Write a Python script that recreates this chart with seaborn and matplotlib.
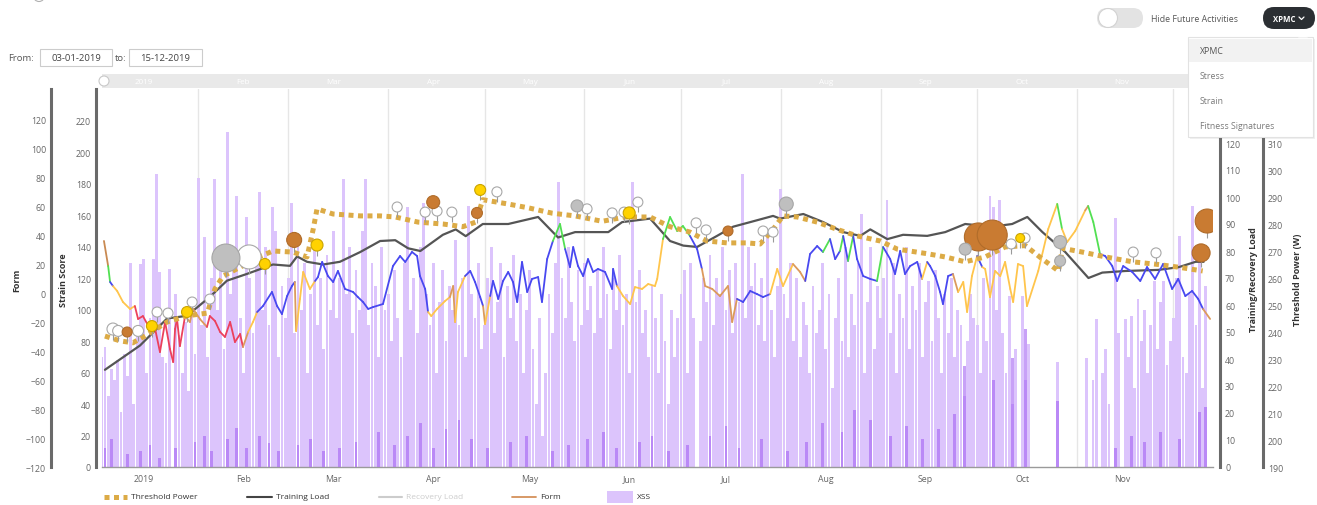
import numpy as np
import pandas as pd
import matplotlib
matplotlib.use("Agg")
import matplotlib.pyplot as plt
import seaborn as sns
from matplotlib.collections import LineCollection
from matplotlib.patches import Rectangle, FancyBboxPatch, Circle, Polygon

# --- XSS per day (strain score), one list per month, day 0 = 1 Jan 2019 ---
xss_jan = [0, 70, 76, 45, 62, 55, 68, 35, 72, 58, 130, 40, 86, 129, 132, 60, 95, 132, 186, 124,
           70, 66, 126, 0, 110, 84, 60, 92, 48, 105, 72]
xss_feb = [184, 90, 146, 70, 120, 183, 100, 130, 75, 213, 110, 140, 172, 95, 60, 159, 120, 85, 135, 175,
           100, 140, 90, 165, 150, 70, 115, 95]
xss_mar = [120, 168, 85, 140, 100, 130, 60, 110, 145, 90, 120, 75, 135, 100, 150, 95, 120, 183, 110, 140,
           85, 125, 100, 150, 183, 90, 130, 115, 70, 140, 100]
xss_apr = [110, 80, 125, 95, 70, 130, 165, 100, 120, 85, 140, 168, 110, 90, 130, 60, 105, 125, 80, 115,
           100, 144, 90, 120, 70, 166, 110, 95, 130, 75]
xss_may = [90, 120, 140, 85, 105, 130, 70, 115, 95, 135, 80, 110, 60, 100, 125, 75, 40, 95, 20, 60,
           110, 85, 130, 181, 120, 95, 140, 105, 80, 125, 90]
xss_jun = [130, 100, 115, 85, 125, 95, 140, 110, 75, 120, 100, 135, 90, 110, 60, 181, 105, 125, 85, 100,
           70, 115, 95, 60, 110, 80, 40, 100, 70, 95]
xss_jul = [110, 125, 60, 130, 95, 0, 80, 120, 105, 135, 90, 120, 110, 140, 100, 125, 85, 130, 105, 186,
           95, 140, 115, 130, 90, 120, 80, 150, 100, 70, 115]
xss_aug = [177, 110, 95, 130, 80, 120, 70, 105, 90, 60, 115, 85, 100, 130, 75, 110, 50, 95, 120, 80,
           140, 70, 110, 90, 130, 161, 60, 105, 140, 75, 115]
xss_sep = [95, 120, 170, 85, 130, 60, 110, 95, 140, 75, 115, 100, 130, 70, 105, 118, 80, 125, 95, 60,
           110, 85, 120, 70, 100, 90, 45, 80, 110, 95]
xss_oct = [90, 60, 120, 80, 172, 165, 100, 170, 85, 60, 109, 40, 75, 0, 109, 55, 78, 0, 0, 0,
           0, 0, 0, 0, 0, 67, 0, 0, 0, 0, 0]
xss_nov = [0, 0, 0, 69, 0, 55, 94, 0, 60, 75, 40, 0, 158, 85, 0, 94, 70, 96, 50, 107,
           80, 100, 60, 90, 118, 75, 105, 118, 65, 80]
xss_dec = [95, 120, 147, 70, 60, 110, 166, 90, 140, 50, 115, 0]

# darker (high intensity) part of XSS: (day, strain)
xss_peak = [(2, 12), (4, 18), (9, 8), (13, 10), (16, 14), (19, 6), (24, 12), (30, 16), (33, 20), (35, 10),
            (40, 18), (43, 25), (46, 12), (50, 20), (53, 15), (56, 10), (62, 14), (66, 18), (70, 10),
            (75, 12), (80, 16), (87, 22), (92, 14), (96, 20), (100, 28), (104, 12), (108, 24), (112, 30),
            (116, 18), (121, 12), (128, 16), (133, 20), (141, 10), (146, 14), (152, 18), (157, 22),
            (161, 12), (168, 16), (172, 20), (177, 10), (183, 14), (190, 20), (195, 26), (199, 12),
            (206, 18), (214, 10), (220, 16), (225, 28), (231, 22), (235, 36), (240, 30), (246, 20),
            (251, 26), (256, 18), (261, 24), (266, 34), (269, 64), (278, 55), (284, 69), (288, 88),
            (298, 42), (316, 12), (321, 20), (325, 16), (330, 22), (336, 18), (342, 35), (344, 38)]

# Training Load: (day, load)
training_load = [(2.0, 36), (12.9, 45), (21.3, 55), (27.5, 56), (34.6, 63), (39.9, 69), (46.1, 71.5),
                 (54.2, 75), (59.5, 74.5), (61.7, 78), (64.8, 76), (69.8, 75), (75.0, 76), (81.3, 79.6),
                 (87.5, 83.7), (92.2, 84), (96.2, 81), (100.0, 80), (107.0, 86), (111.0, 88), (114.1, 85.5),
                 (119.4, 90), (127.3, 90), (136.6, 92.6), (142.8, 85), (148.1, 87), (158.4, 87),
                 (162.7, 90.7), (171.4, 92), (177.6, 83.7), (181.7, 82), (186.0, 81.5), (192.2, 85.6),
                 (197.2, 89), (202.5, 90.7), (209.6, 93), (211.8, 92), (219.0, 93.7), (225.2, 90.7),
                 (231.4, 87), (236.7, 85.6), (239.8, 88), (245.1, 84.4), (250.0, 86), (257.5, 85.6),
                 (263.1, 87), (269.3, 90), (277.7, 89), (283.9, 90), (288.6, 92.6), (293.3, 87),
                 (300.4, 79.6), (307.6, 70), (311.9, 72), (319.1, 72.6), (329.3, 73), (335.6, 74),
                 (340.9, 76), (343.4, 76)]

# Threshold Power: (day, watts)
threshold_power = [(2.0, 238.5), (6.7, 236.7), (10.7, 236.0), (15.1, 239.0), (21.3, 243.7), (27.5, 246.0),
                   (33.8, 247.0), (36.2, 256.0), (38.7, 260.7), (44.0, 264.0), (50.2, 268.0), (54.2, 270.0),
                   (60.4, 269.6), (64.8, 267.8), (66.7, 278.0), (67.9, 285.6), (72.9, 283.7), (81.3, 283.0),
                   (87.5, 283.0), (92.2, 282.6), (99.3, 280.7), (107.0, 280.0), (113.2, 279.0),
                   (117.2, 280.7), (119.4, 289.0), (127.3, 287.4), (133.5, 286.0), (141.0, 284.0),
                   (148.1, 283.0), (156.5, 281.0), (163.6, 282.6), (171.4, 282.6), (177.6, 279.0),
                   (183.8, 277.0), (189.1, 273.7), (195.3, 273.0), (201.5, 273.0), (205.6, 272.6),
                   (209.6, 278.0), (212.7, 283.0), (217.1, 282.6), (223.3, 280.7), (229.5, 278.0),
                   (235.7, 275.6), (242.9, 273.7), (248.2, 270.7), (257.5, 269.0), (263.1, 267.8),
                   (269.3, 266.0), (275.5, 267.8), (281.7, 271.5), (288.0, 272.0), (293.3, 267.0),
                   (298.3, 262.6), (299.5, 271.0), (305.7, 269.6), (312.9, 267.8), (321.3, 266.0),
                   (329.3, 265.0), (335.6, 264.0), (343.1, 262.6)]

# Form: (day, form, status)  P=peak T=tired R=very tired Y=neutral B=fresh G=very fresh
form = [(1.7, 35.9, 'P'), (3.0, 18.6, 'G'), (3.6, 7.6, 'B'), (4.5, 4.8, 'Y'), (5.8, 1.4, 'Y'),
        (7.6, -6.2, 'Y'), (9.8, -11.0, 'Y'), (11.3, -9.0, 'R'), (12.3, -17.9, 'R'), (13.8, -15.9, 'R'),
        (16.0, -24.8, 'R'), (17.6, -24.8, 'R'), (19.1, -40.7, 'R'), (20.7, -20.0, 'R'), (22.2, -38.6, 'R'),
        (23.2, -47.6, 'R'), (23.8, -24.8, 'R'), (24.4, -17.9, 'R'), (25.3, -36.6, 'R'), (26.9, -15.9, 'T'),
        (28.4, -20.0, 'T'), (29.4, -11.0, 'T'), (31.5, -17.9, 'T'), (33.7, -23.4, 'R'), (34.6, -15.9, 'R'),
        (36.2, -19.3, 'R'), (37.8, -26.9, 'R'), (39.3, -30.3, 'R'), (40.9, -20.0, 'R'), (42.4, -33.8, 'R'),
        (44.0, -28.3, 'R'), (44.9, -37.2, 'T'), (46.5, -26.9, 'Y'), (48.0, -20.0, 'Y'), (49.3, -13.1, 'B'),
        (51.1, -9.0, 'B'), (53.9, 0.7, 'B'), (55.5, -9.0, 'B'), (57.0, -14.5, 'B'), (58.6, -2.1, 'B'),
        (60.1, 4.8, 'B'), (61.0, 7.6, 'T'), (61.4, -26.2, 'Y'), (62.6, -4.1, 'Y'), (63.6, 14.5, 'Y'),
        (65.7, 2.8, 'Y'), (67.3, 8.3, 'B'), (68.2, 11.0, 'B'), (69.5, 21.4, 'B'), (71.3, 11.7, 'B'),
        (72.9, 7.6, 'B'), (74.4, 15.2, 'B'), (76.6, 2.8, 'B'), (79.1, 0.7, 'B'), (80.6, -2.8, 'B'),
        (82.2, -6.2, 'B'), (83.8, -11.0, 'B'), (85.3, -9.7, 'B'), (88.4, -7.6, 'B'), (91.5, 18.6, 'B'),
        (93.7, 25.5, 'B'), (95.3, 21.4, 'B'), (97.4, 28.3, 'B'), (99.0, 25.5, 'B'), (99.9, 11.7, 'B'),
        (101.5, 2.8, 'B'), (102.4, -13.1, 'Y'), (103.4, -15.9, 'Y'), (105.2, -11.0, 'Y'), (107.7, -5.5, 'Y'),
        (109.2, -2.8, 'T'), (110.2, 4.8, 'T'), (110.8, -20.0, 'Y'), (111.7, 0.7, 'Y'), (113.9, 11.7, 'B'),
        (115.5, 15.2, 'B'), (117.0, 7.6, 'B'), (118.6, -2.8, 'B'), (119.5, -9.0, 'T'), (120.1, -21.4, 'Y'),
        (121.7, -2.1, 'B'), (122.6, 8.3, 'B'), (124.2, -4.1, 'B'), (125.7, 8.3, 'B'), (127.3, 14.5, 'B'),
        (128.8, 7.6, 'B'), (130.1, -6.2, 'B'), (131.6, 21.4, 'B'), (133.2, 0.7, 'B'), (134.7, 9.7, 'B'),
        (136.6, 11.0, 'B'), (137.8, -6.2, 'B'), (139.4, 23.4, 'B'), (141.2, 35.9, 'G'), (143.4, 47.6, 'G'),
        (145.0, 30.3, 'B'), (146.5, 17.9, 'B'), (147.5, 31.7, 'B'), (149.0, 18.6, 'B'), (150.6, 11.7, 'B'),
        (152.1, 23.4, 'B'), (153.7, 14.5, 'B'), (155.2, 16.6, 'B'), (157.4, 14.5, 'B'), (159.6, 2.8, 'B'),
        (159.9, 16.6, 'B'), (161.1, 4.8, 'Y'), (163.0, -2.1, 'Y'), (165.2, -7.6, 'Y'), (166.7, 4.1, 'Y'),
        (168.9, 2.8, 'Y'), (170.8, 6.2, 'Y'), (172.9, 4.8, 'Y'), (173.6, 9.7, 'Y'), (175.4, 37.2, 'G'),
        (177.6, 52.4, 'G'), (179.8, 42.8, 'G'), (181.6, 46.2, 'G'), (183.8, 39.3, 'B'), (186.0, 30.3, 'B'),
        (187.5, 16.6, 'T'), (188.5, 4.8, 'T'), (190.7, 2.8, 'T'), (193.1, -2.1, 'T'), (195.6, 4.8, 'T'),
        (196.9, -20.0, 'T'), (198.4, -4.1, 'B'), (200.3, -6.2, 'B'), (202.5, 1.4, 'B'), (204.6, -0.7, 'B'),
        (206.5, -2.8, 'B'), (208.7, -0.7, 'Y'), (210.9, 16.6, 'Y'), (212.7, 4.8, 'Y'), (215.8, 20.0, 'T'),
        (218.0, 14.5, 'T'), (219.6, 8.3, 'B'), (221.1, 26.9, 'B'), (223.3, 32.4, 'B'), (225.1, 28.3, 'G'),
        (227.3, 37.2, 'B'), (228.9, 23.4, 'B'), (230.4, 29.0, 'G'), (231.4, 39.3, 'B'), (232.9, 22.1, 'G'),
        (234.5, 39.3, 'B'), (235.7, 23.4, 'B'), (237.6, 11.7, 'B'), (239.8, 9.7, 'B'), (241.9, 8.3, 'G'),
        (243.8, 31.7, 'B'), (246.0, 23.4, 'B'), (247.5, 13.1, 'B'), (249.1, 29.0, 'B'), (250.6, 13.1, 'B'),
        (252.2, 18.6, 'B'), (254.4, 21.4, 'B'), (255.9, 9.7, 'Y'), (257.5, 21.4, 'B'), (258.4, 18.6, 'B'),
        (260.0, 11.7, 'B'), (261.5, 0.7, 'B'), (262.4, -7.6, 'B'), (264.0, 11.7, 'B'), (265.5, 13.1, 'T'),
        (267.1, 0.7, 'Y'), (268.7, 7.6, 'Y'), (269.9, -13.1, 'Y'), (271.4, 11.7, 'Y'), (273.0, 25.5, 'B'),
        (274.6, 17.9, 'Y'), (275.5, 16.6, 'Y'), (277.0, -2.8, 'Y'), (278.6, 15.2, 'Y'), (280.2, 11.7, 'Y'),
        (281.7, 21.4, 'Y'), (283.3, 2.8, 'Y'), (284.2, -6.2, 'Y'), (285.7, 20.0, 'Y'), (287.3, 18.6, 'Y'),
        (288.5, -9.0, 'Y'), (292.0, 15.2, 'Y'), (295.1, 44.1, 'Y'), (297.9, 61.4, 'G'), (299.4, 44.1, 'Y'),
        (301.0, 35.2, 'Y'), (303.5, 42.8, 'Y'), (306.6, 57.0, 'T'), (307.5, 60.0, 'G'), (309.1, 49.0, 'G'),
        (311.2, 26.9, 'B'), (312.8, 25.5, 'B'), (315.0, 18.6, 'B'), (316.5, 8.3, 'B'), (318.4, 18.6, 'B'),
        (321.2, 14.5, 'B'), (323.7, 8.3, 'B'), (325.8, 17.9, 'B'), (328.3, 9.7, 'B'), (330.8, 20.0, 'B'),
        (333.6, 2.8, 'B'), (335.5, 9.7, 'B'), (337.7, -2.1, 'B'), (339.8, 1.4, 'B'), (341.7, -4.1, 'B'),
        (343.2, -11.0, 'T'), (345.4, -17.9, 'T')]

# Activities: (day, threshold power, score, kind)
activities = [(4.5, 241.1, 36, 'white'), (6.1, 240.4, 30, 'white'), (8.9, 240.0, 25, 'brown'),
              (12.3, 240.4, 30, 'white'), (16.6, 242.2, 30, 'yellow'), (18.2, 247.4, 25, 'white'),
              (21.6, 247.0, 25, 'white'), (27.5, 247.4, 30, 'yellow'), (29.1, 251.1, 25, 'white'),
              (34.6, 252.2, 25, 'white'), (39.6, 267.4, 196, 'gray'), (46.8, 267.8, 144, 'white'),
              (51.7, 265.2, 30, 'yellow'), (60.8, 274.1, 56, 'brown'), (67.9, 272.2, 36, 'yellow'),
              (92.8, 286.3, 25, 'white'), (101.5, 284.4, 25, 'white'), (104.0, 288.1, 42, 'brown'),
              (105.2, 284.8, 25, 'white'), (109.8, 284.4, 25, 'white'), (117.6, 284.1, 30, 'brown'),
              (118.6, 292.6, 30, 'yellow'), (123.8, 291.9, 25, 'white'), (148.7, 286.7, 36, 'gray'),
              (151.8, 285.6, 25, 'white'), (159.6, 284.1, 25, 'white'), (163.3, 284.4, 25, 'white'),
              (164.9, 284.1, 36, 'yellow'), (167.6, 288.1, 25, 'white'), (185.7, 280.4, 25, 'white'),
              (188.8, 277.8, 25, 'white'), (195.6, 277.4, 25, 'brown'), (206.5, 277.4, 25, 'white'),
              (209.6, 277.0, 25, 'white'), (213.7, 287.4, 49, 'gray'), (269.3, 270.7, 36, 'gray'),
              (273.4, 275.2, 196, 'brown'), (277.7, 275.9, 225, 'brown'), (283.6, 272.6, 25, 'white'),
              (286.4, 274.8, 20, 'yellow'), (287.9, 274.8, 25, 'white'), (298.8, 273.3, 42, 'gray'),
              (298.8, 266.3, 30, 'gray'), (321.5, 269.6, 25, 'white'), (328.6, 269.3, 25, 'white'),
              (342.6, 269.3, 81, 'brown'), (344.5, 281.1, 144, 'brown')]

month_starts = [31, 59, 90, 120, 151, 181, 212, 243, 273, 304, 334]
month_mids = [14, 45, 73, 104, 134, 165, 195, 226, 257, 287, 318]
month_labels = ['2019', 'Feb', 'Mar', 'Apr', 'May', 'Jun', 'Jul', 'Aug', 'Sep', 'Oct', 'Nov']
legend_names = ['Threshold Power', 'Training Load', 'Recovery Load', 'Form', 'XSS']
menu_items = ['XPMC', 'Stress', 'Strain', 'Fitness Signatures']

PX = 0.72  # points per pixel at 100 dpi
W, H = 1317, 506
AXIS_GRAY = '#6a6a6a'
TICK_GRAY = '#666666'
GOLD = '#dcab46'
XSS_COLOR = '#dcc4fc'

zone_colors = {'P': '#c98a52', 'T': '#dc9a5c', 'R': '#ec405c', 'Y': '#ffc54c',
               'B': '#4848f0', 'G': '#52e052'}
kind_fill = {'white': '#ffffff', 'gray': '#bfbfbf', 'yellow': '#ffd200', 'brown': '#c97b32'}
kind_edge = {'white': '#a8a8a8', 'gray': '#a6a6a6', 'yellow': '#caa400', 'brown': '#b06c2a'}


def style_y(axis, side, offset_px, ticks):
    for name, sp in axis.spines.items():
        sp.set_visible(name == side)
    sp = axis.spines[side]
    sp.set_position(('outward', offset_px * PX))
    sp.set_color(AXIS_GRAY)
    sp.set_linewidth(2.2)
    axis.set_yticks(ticks)
    axis.tick_params(axis='y', length=0, pad=5 * PX, labelsize=6.3, labelcolor=TICK_GRAY)
    axis.set_ylabel('')


def main():
    sns.set_theme(style='white')
    plt.rcParams['font.family'] = ['Open Sans', 'DejaVu Sans']

    fig = plt.figure(figsize=(W / 100, H / 100), dpi=100)
    L, R, T, B = 102, 1213, 90, 468
    ax = fig.add_axes([L / W, 1 - B / H, (R - L) / W, (B - T) / H])

    xss = xss_jan + xss_feb + xss_mar + xss_apr + xss_may + xss_jun + xss_jul + xss_aug + \
        xss_sep + xss_oct + xss_nov + xss_dec
    days = np.arange(len(xss))
    peak = pd.Series(dict(xss_peak)).reindex(days, fill_value=0)
    bars = pd.DataFrame({'day': days, 'xss': xss, 'peak': peak.values})

    for m in month_starts:
        ax.axvline(m, color='#e6e6e6', lw=1, zorder=0)
    sns.barplot(data=bars, x='day', y='xss', native_scale=True, width=0.88, color=XSS_COLOR,
                saturation=1, errorbar=None, linewidth=0, ax=ax, zorder=2)
    sns.barplot(data=bars, x='day', y='peak', native_scale=True, width=0.88, color='#a463f2',
                saturation=1, errorbar=None, linewidth=0, alpha=0.6, ax=ax, zorder=3)

    ax.set_xlim(1.09, 346.3)
    ax.set_ylim(0, 240.3)
    style_y(ax, 'left', 6, range(0, 221, 20))
    ax.spines['bottom'].set_visible(True)
    ax.spines['bottom'].set_color('#9a9a9a')
    ax.spines['bottom'].set_linewidth(1)
    ax.set_xticks(month_mids)
    ax.set_xticklabels(month_labels)
    ax.tick_params(axis='x', length=0, pad=5, labelsize=6.3, labelcolor=TICK_GRAY)
    ax.set_xlabel('')

    # training load
    ax_tl = ax.twinx()
    tl = pd.DataFrame(training_load, columns=['day', 'load'])
    sns.lineplot(data=tl, x='day', y='load', color='#555555', linewidth=1.6, ax=ax_tl)
    ax_tl.set_ylim(0, 140)
    style_y(ax_tl, 'right', 7, range(0, 121, 10))

    # form
    ax_form = ax.twinx()
    fd = np.array([p[0] for p in form])
    fv = np.array([p[1] for p in form])
    pts = np.column_stack([fd, fv])
    segs = np.stack([pts[:-1], pts[1:]], axis=1)
    lc = LineCollection(segs, colors=[zone_colors[p[2]] for p in form[:-1]], linewidths=1.3,
                        capstyle='round', joinstyle='round')
    ax_form.add_collection(lc)
    ax_form.set_ylim(-120, 140.7)
    ax_form.yaxis.tick_left()
    style_y(ax_form, 'left', 51, range(-120, 121, 20))

    # threshold power + activities
    ax_tp = ax.twinx()
    tp = pd.DataFrame(threshold_power, columns=['day', 'power'])
    sns.lineplot(data=tp, x='day', y='power', color=GOLD, linewidth=3.6,
                 linestyle=(0, (1.0, 0.9)), ax=ax_tp)
    acts = pd.DataFrame(activities, columns=['day', 'power', 'score', 'kind'])
    px_per_w = (B - T) / 140.0
    ax_tp.vlines(acts['day'], acts['power'] - (np.sqrt(acts['score']) + 5) / px_per_w, acts['power'],
                 color='#9a9a9a', lw=0.8, zorder=4)
    for kind, grp in acts.groupby('kind', sort=False):
        sns.scatterplot(data=grp, x='day', y='power', size='score', sizes=(0, 466.6), size_norm=(0, 225),
                        color=kind_fill[kind], edgecolor=kind_edge[kind], linewidth=0.8,
                        legend=False, ax=ax_tp, zorder=5)
    ax_tp.set_ylim(190, 330)
    style_y(ax_tp, 'right', 50, range(190, 311, 10))
    ax.set_xlim(1.09, 346.3)

    # axis titles
    for txt, xp in [('Form', 17), ('Strain Score', 64), ('Training/Recovery Load', 1254),
                    ('Threshold Power (W)', 1297)]:
        fig.text(xp / W, 1 - 280 / H, txt, rotation=90, ha='center', va='center',
                 fontsize=6.5, fontweight='bold', color='#333333')

    # navigator band
    nav = fig.add_axes([L / W, 1 - 89 / H, (R - L) / W, 14 / H], sharex=ax)
    nav.set_facecolor('#e9e9e9')
    for sp in nav.spines.values():
        sp.set_visible(False)
    nav.tick_params(labelbottom=False, labelleft=False, length=0)
    nav.set_yticks([])
    for d, lab in zip(month_mids, month_labels):
        nav.text(d, 0.5, lab, transform=nav.get_xaxis_transform(), ha='center', va='center',
                 fontsize=5.8, color='#ffffff')

    # page widgets, drawn in pixel space
    ui = fig.add_axes([0, 0, 1, 1], zorder=10)
    ui.set_xlim(0, W)
    ui.set_ylim(H, 0)
    ui.axis('off')
    ui.patch.set_alpha(0)

    ui.add_patch(Circle((104, 82), 5, fc='white', ec='#c8c8c8', lw=0.8))
    ui.add_patch(Circle((39, -3), 5.5, fc='none', ec='#b0b0b0', lw=0.8))
    ui.text(8, 58.5, 'From:', fontsize=6.8, color='#555555', va='center')
    ui.add_patch(Rectangle((40, 50), 72, 17, fc='white', ec='#cccccc', lw=0.8))
    ui.text(76, 58.5, '03-01-2019', fontsize=6.8, color='#444444', va='center', ha='center')
    ui.text(115, 58.5, 'to:', fontsize=6.8, color='#555555', va='center')
    ui.add_patch(Rectangle((129, 50), 73, 17, fc='white', ec='#cccccc', lw=0.8))
    ui.text(165.5, 58.5, '15-12-2019', fontsize=6.8, color='#444444', va='center', ha='center')

    ui.add_patch(FancyBboxPatch((1097, 9), 46, 20, boxstyle='round,pad=0,rounding_size=10',
                                fc='#e3e3e3', ec='none'))
    ui.add_patch(Circle((1108, 19), 9.5, fc='white', ec='#d2d2d2', lw=0.8))
    ui.text(1151, 19, 'Hide Future Activities', fontsize=6.3, color='#555555', va='center')
    ui.add_patch(FancyBboxPatch((1263, 8), 52, 22, boxstyle='round,pad=0,rounding_size=11',
                                fc='#2b2f33', ec='none'))
    ui.text(1284, 19.5, 'XPMC', fontsize=5.6, color='white', va='center', ha='center', fontweight='bold')
    ui.plot([1299, 1301.5, 1304], [18, 20.5, 18], color='white', lw=0.9)

    ui.add_patch(Rectangle((1190, 40), 125, 100, fc='black', alpha=0.06, ec='none'))
    ui.add_patch(Rectangle((1188, 38), 125, 100, fc='white', ec='#e2e2e2', lw=0.8))
    ui.add_patch(Polygon([[1298, 38.5], [1303, 34], [1308, 38.5]], closed=True, fc='white', ec='none'))
    ui.add_patch(Rectangle((1189, 40), 123, 23, fc='#f2f2f2', ec='none'))
    for i, item in enumerate(menu_items):
        ui.text(1200, 51.5 + 25 * i, item, fontsize=6.3, va='center',
                color='#555555' if i == 0 else '#7a7a7a')

    # legend
    ly = 498
    ui.plot([104, 127], [ly, ly], color=GOLD, lw=3.6, linestyle=(0, (1.0, 0.9)))
    ui.plot([247, 272], [ly, ly], color='#444444', lw=1.5)
    ui.plot([379, 402], [ly, ly], color='#cccccc', lw=1.5)
    ui.plot([512, 536], [ly, ly], color='#d4915a', lw=1.3)
    ui.add_patch(Rectangle((607, ly - 6), 26, 12, fc=XSS_COLOR, ec='none'))
    for xp, name in zip([131, 276, 406, 540, 637], legend_names):
        ui.text(xp, ly, name, fontsize=6, va='center',
                color='#cccccc' if name == 'Recovery Load' else '#333333')

    fig.savefig('out.png', dpi=100)


if __name__ == '__main__':
    main()
